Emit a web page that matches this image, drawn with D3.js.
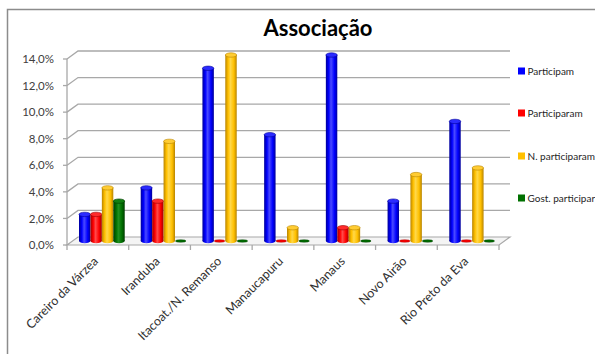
<!DOCTYPE html>
<html>
<head>
<meta charset="utf-8">
<script src="https://cdn.jsdelivr.net/npm/d3@7"></script>
<style>
  html, body { margin: 0; padding: 0; background: #fff; }
  svg { display: block; font-family: Lato, "Open Sans", sans-serif; }
</style>
</head>
<body>
<svg id="chart" width="595" height="354"></svg>
<script>
// Municipalities along the x axis
const categories = ["Careiro da Várzea", "Iranduba", "Itacoat./N. Remanso", "Manaucapuru",
                    "Manaus", "Novo Airão", "Rio Preto da Eva"];
// Series (percent)
const participam      = [2, 4, 13, 8, 14, 3, 9];
const participaram    = [2, 3, 0, 0, 1, 0, 0];
const nParticiparam   = [4, 7.5, 14, 1, 1, 5, 5.5];
const gostParticipar  = [3, 0, 0, 0, 0, 0, 0];
const seriesNames = ["Participam", "Participaram", "N. participaram", "Gost. participar"];
const yTicks = [0, 2, 4, 6, 8, 10, 12, 14];

const seriesValues = [participam, participaram, nParticiparam, gostParticipar];
const palette = [
  { base: "#0000ff", light: "#4a4aff", dark: "#00009a", cap: "#2b2bff" },
  { base: "#ff0000", light: "#ff4a4a", dark: "#a00000", cap: "#ff2b2b" },
  { base: "#ffc000", light: "#ffd84a", dark: "#b88400", cap: "#ffcc33" },
  { base: "#007000", light: "#1f8f1f", dark: "#003c00", cap: "#118011" }
];

const svg = d3.select("#chart");

// Outer frame
svg.append("rect").attr("x", 7.5).attr("y", 9.5).attr("width", 640).attr("height", 400)
  .attr("fill", "none").attr("stroke", "#8c8c8c").attr("stroke-width", 1.5);

// Title
svg.append("text").attr("x", 318).attr("y", 36).attr("text-anchor", "middle")
  .attr("font-size", 22).attr("font-weight", "bold").attr("fill", "#000")
  .text("Associação");

// Pseudo-3D geometry
const x0 = 67, x1 = 499;            // front edge of the floor
const depth = { dx: 11, dy: -8 };   // offset from front to back wall
const x = d3.scaleBand().domain(categories).range([x0, x1]);
const y = d3.scaleLinear().domain([0, 14]).range([245, 59]);
const gridColor = "#a8a8a8";

// Floor
const floor = [[x0, y(0)], [x1, y(0)], [x1 + depth.dx, y(0) + depth.dy], [x0 + depth.dx, y(0) + depth.dy]];
svg.append("polygon").attr("points", floor.map(p => p.join(",")).join(" "))
  .attr("fill", "#f4f4f4").attr("stroke", gridColor).attr("stroke-width", 1.2);

// Gridlines: side wall diagonal + back wall horizontal
const grid = svg.append("g").attr("fill", "none").attr("stroke", gridColor).attr("stroke-width", 1.3);
yTicks.forEach(t => {
  if (t === 0) return;
  grid.append("path").attr("d",
    `M${x0},${y(t)} L${x0 + depth.dx},${y(t) + depth.dy} L${x1 + depth.dx},${y(t) + depth.dy}`);
});
yTicks.forEach(t => {
  grid.append("line").attr("x1", x0 - 4).attr("x2", x0).attr("y1", y(t)).attr("y2", y(t));
});
grid.append("line").attr("x1", x0).attr("x2", x0).attr("y1", y(14)).attr("y2", y(0));

// Category tick marks on the floor's front edge
const catTicks = categories.map(c => x(c)).concat([x1]);
catTicks.forEach(cx => {
  grid.append("line").attr("x1", cx).attr("x2", cx).attr("y1", y(0)).attr("y2", y(0) + 5);
});

// Y tick labels
svg.append("g").selectAll("text").data(yTicks).join("text")
  .attr("x", 54).attr("y", d => y(d)).attr("dy", "0.36em")
  .attr("text-anchor", "end").attr("font-size", 11.5).attr("fill", "#404040")
  .text(d => d.toFixed(1).replace(".", ",") + "%");

// X labels, rotated
svg.append("g").selectAll("text").data(categories).join("text")
  .attr("transform", d => `translate(${x(d) + x.bandwidth() / 2 + 1},${y(0) + 17}) rotate(-45)`)
  .attr("text-anchor", "end").attr("font-size", 12.5).attr("fill", "#303030")
  .text(d => d);

// Cylinder gradients
const defs = svg.append("defs");
palette.forEach((p, i) => {
  const g = defs.append("linearGradient").attr("id", "cyl" + i)
    .attr("x1", "0%").attr("x2", "100%").attr("y1", "0%").attr("y2", "0%");
  g.append("stop").attr("offset", "0%").attr("stop-color", p.dark);
  g.append("stop").attr("offset", "25%").attr("stop-color", p.base);
  g.append("stop").attr("offset", "45%").attr("stop-color", p.light);
  g.append("stop").attr("offset", "75%").attr("stop-color", p.base);
  g.append("stop").attr("offset", "100%").attr("stop-color", p.dark);
});

// Bars sit at mid-depth
const mid = { dx: 5, dy: -4 };
const xs = d3.scaleBand().domain(d3.range(4)).range([12, x.bandwidth() - 4]);
const bw = xs.bandwidth();
const ry = 2.2;

const bars = svg.append("g");
categories.forEach((c, ci) => {
  seriesValues.forEach((vals, si) => {
    const v = vals[ci];
    const cx = x(c) + xs(si) + bw / 2 + mid.dx - 5;
    const yb = y(0) + mid.dy;
    const yt = y(v) + mid.dy;
    const p = palette[si];
    if (v === 0) {
      bars.append("ellipse").attr("cx", cx).attr("cy", yb).attr("rx", bw / 2 - 0.5).attr("ry", 1.2)
        .attr("fill", p.base).attr("stroke", p.dark).attr("stroke-width", 0.5);
      return;
    }
    bars.append("ellipse").attr("cx", cx).attr("cy", yb).attr("rx", bw / 2).attr("ry", ry)
      .attr("fill", `url(#cyl${si})`);
    bars.append("rect").attr("x", cx - bw / 2).attr("y", yt).attr("width", bw).attr("height", yb - yt)
      .attr("fill", `url(#cyl${si})`);
    bars.append("ellipse").attr("cx", cx).attr("cy", yt).attr("rx", bw / 2).attr("ry", ry)
      .attr("fill", p.cap).attr("stroke", p.dark).attr("stroke-width", 0.6);
  });
});

// Legend
const legendY = [71, 113, 156, 198];
const legend = svg.append("g");
seriesNames.forEach((n, i) => {
  legend.append("rect").attr("x", 518).attr("y", legendY[i] - 3.5).attr("width", 7).attr("height", 7)
    .attr("fill", palette[i].base);
  legend.append("text").attr("x", 527.5).attr("y", legendY[i]).attr("dy", "0.35em")
    .attr("font-size", 10).attr("fill", "#262626").text(n);
});
</script>
</body>
</html>
